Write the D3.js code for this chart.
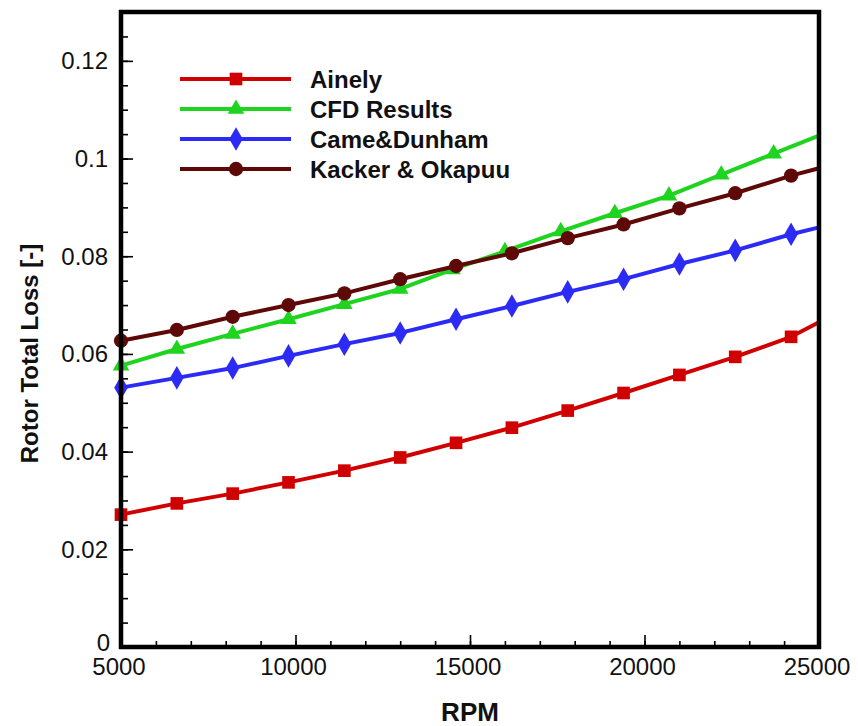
<!DOCTYPE html>
<html>
<head>
<meta charset="utf-8">
<script src="https://cdn.jsdelivr.net/npm/d3@7"></script>
<style>
  html, body { margin: 0; padding: 0; background: #fff; }
  svg { display: block; }
  text { font-family: "Liberation Sans", Arial, sans-serif; }
</style>
</head>
<body>
<svg id="chart" width="858" height="726"></svg>
<script>
// RPM sample points (last point lies on the right frame, drawn without a symbol)
const rpmStd = [5000, 6600, 8200, 9800, 11400, 13000, 14600, 16200, 17800, 19400, 21000, 22600, 24200, 25000];
const rpmCfd = [5000, 6600, 8200, 9800, 11400, 13000, 14500, 16000, 17600, 19150, 20700, 22200, 23700, 25000];

// Rotor total loss for each loss model
const ainely = [0.0271, 0.0294, 0.0314, 0.0337, 0.0361, 0.0388, 0.0418, 0.0449, 0.0484, 0.0520, 0.0557, 0.0594, 0.0635, 0.0665];
const cfdResults = [0.0576, 0.0610, 0.0641, 0.0671, 0.0702, 0.0733, 0.0773, 0.0810, 0.0851, 0.0888, 0.0924, 0.0967, 0.1010, 0.1047];
const cameDunham = [0.0531, 0.0551, 0.0571, 0.0596, 0.0620, 0.0643, 0.0671, 0.0698, 0.0727, 0.0753, 0.0784, 0.0812, 0.0845, 0.0859];
const kackerOkapuu = [0.0627, 0.0649, 0.0676, 0.0700, 0.0724, 0.0753, 0.0780, 0.0806, 0.0837, 0.0865, 0.0898, 0.0929, 0.0965, 0.0980];

const seriesNames = ["Ainely", "CFD Results", "Came&Dunham", "Kacker & Okapuu"];

// Axis ticks
const xMajorTicks = [5000, 10000, 15000, 20000, 25000];
const yMajorTicks = [0, 0.02, 0.04, 0.06, 0.08, 0.1, 0.12];

const series = [
  { name: seriesNames[0], x: rpmStd, y: ainely, color: "#d10000", symbol: d3.symbolSquare, size: 160 },
  { name: seriesNames[1], x: rpmCfd, y: cfdResults, color: "#1fd41f", symbol: d3.symbolTriangle, size: 120 },
  { name: seriesNames[2], x: rpmStd, y: cameDunham, color: "#2b2bf5", symbol: d3.symbolDiamond, size: 160 },
  { name: seriesNames[3], x: rpmStd, y: kackerOkapuu, color: "#5e0808", symbol: d3.symbolCircle, size: 160 }
];

const svg = d3.select("#chart");
const plot = { left: 121, right: 819, top: 12, bottom: 647 };

const x = d3.scaleLinear().domain([5000, 25000]).range([plot.left, plot.right]);
const y = d3.scaleLinear().domain([0, 0.13]).range([plot.bottom, plot.top]);

// Curves
const line = d3.line().x(d => x(d[0])).y(d => y(d[1]));
const plotG = svg.append("g");

series.forEach(s => {
  const pts = s.x.map((v, i) => [v, s.y[i]]);
  plotG.append("path")
    .attr("d", line(pts))
    .attr("fill", "none")
    .attr("stroke", s.color)
    .attr("stroke-width", 4)
    .attr("stroke-linejoin", "round");
  plotG.selectAll(null)
    .data(pts.slice(0, -1))
    .enter().append("path")
    .attr("d", d3.symbol().type(s.symbol).size(s.size))
    .attr("transform", d => `translate(${x(d[0])},${y(d[1])})`)
    .attr("fill", s.color);
});

// Frame
svg.append("rect")
  .attr("x", plot.left).attr("y", plot.top)
  .attr("width", plot.right - plot.left).attr("height", plot.bottom - plot.top)
  .attr("fill", "none").attr("stroke", "#000").attr("stroke-width", 4.5);

// X axis: inward ticks, labels below
const xAxisMinor = d3.axisTop(x).tickValues(d3.range(5000, 25001, 1000)).tickSize(6).tickFormat("");
const xAxisMajor = d3.axisTop(x).tickValues(xMajorTicks).tickSize(12).tickFormat("");
[xAxisMinor, xAxisMajor].forEach(ax => {
  const g = svg.append("g").attr("transform", `translate(0,${plot.bottom})`).call(ax);
  g.select(".domain").remove();
  g.selectAll(".tick line").attr("stroke", "#000").attr("stroke-width", 1.6);
});
svg.append("g").selectAll("text")
  .data(xMajorTicks)
  .enter().append("text")
  .attr("x", d => x(d) - 2)
  .attr("y", plot.bottom + 28)
  .attr("text-anchor", "middle")
  .attr("font-size", 24)
  .attr("fill", "#111")
  .text(d => d);

// Y axis: inward ticks, labels left
const yAxisMinor = d3.axisRight(y).tickValues(d3.range(0, 0.1251, 0.005)).tickSize(7).tickFormat("");
const yAxisMajor = d3.axisRight(y).tickValues(yMajorTicks).tickSize(12).tickFormat("");
[yAxisMinor, yAxisMajor].forEach(ax => {
  const g = svg.append("g").attr("transform", `translate(${plot.left},0)`).call(ax);
  g.select(".domain").remove();
  g.selectAll(".tick line").attr("stroke", "#000").attr("stroke-width", 1.6);
});
svg.append("g").selectAll("text")
  .data(yMajorTicks)
  .enter().append("text")
  .attr("x", d => d === 0 ? plot.left - 11 : plot.left - 13)
  .attr("y", d => d === 0 ? y(d) - 4 : y(d))
  .attr("dy", "0.35em")
  .attr("text-anchor", "end")
  .attr("font-size", 24)
  .attr("fill", "#111")
  .text(d => d === 0 ? "0" : String(+d.toFixed(2)));

// Axis titles
svg.append("text")
  .attr("x", (plot.left + plot.right) / 2)
  .attr("y", 721)
  .attr("text-anchor", "middle")
  .attr("font-size", 26)
  .attr("font-weight", "bold")
  .attr("fill", "#111")
  .text("RPM");

svg.append("text")
  .attr("transform", `translate(38,${(plot.top + plot.bottom) / 2 + 24}) rotate(-90)`)
  .attr("text-anchor", "middle")
  .attr("font-size", 24)
  .attr("font-weight", "bold")
  .attr("fill", "#111")
  .text("Rotor Total Loss [-]");

// Legend
const legend = svg.append("g");
series.forEach((s, i) => {
  const ly = 79 + i * 30;
  legend.append("line")
    .attr("x1", 180).attr("x2", 291)
    .attr("y1", ly).attr("y2", ly)
    .attr("stroke", s.color).attr("stroke-width", 4);
  legend.append("path")
    .attr("d", d3.symbol().type(s.symbol).size(s.size)())
    .attr("transform", `translate(236,${ly})`)
    .attr("fill", s.color);
  legend.append("text")
    .attr("x", 310).attr("y", ly)
    .attr("dy", "0.36em")
    .attr("font-size", 24)
    .attr("font-weight", "bold")
    .attr("fill", "#111")
    .text(s.name);
});
</script>
</body>
</html>
